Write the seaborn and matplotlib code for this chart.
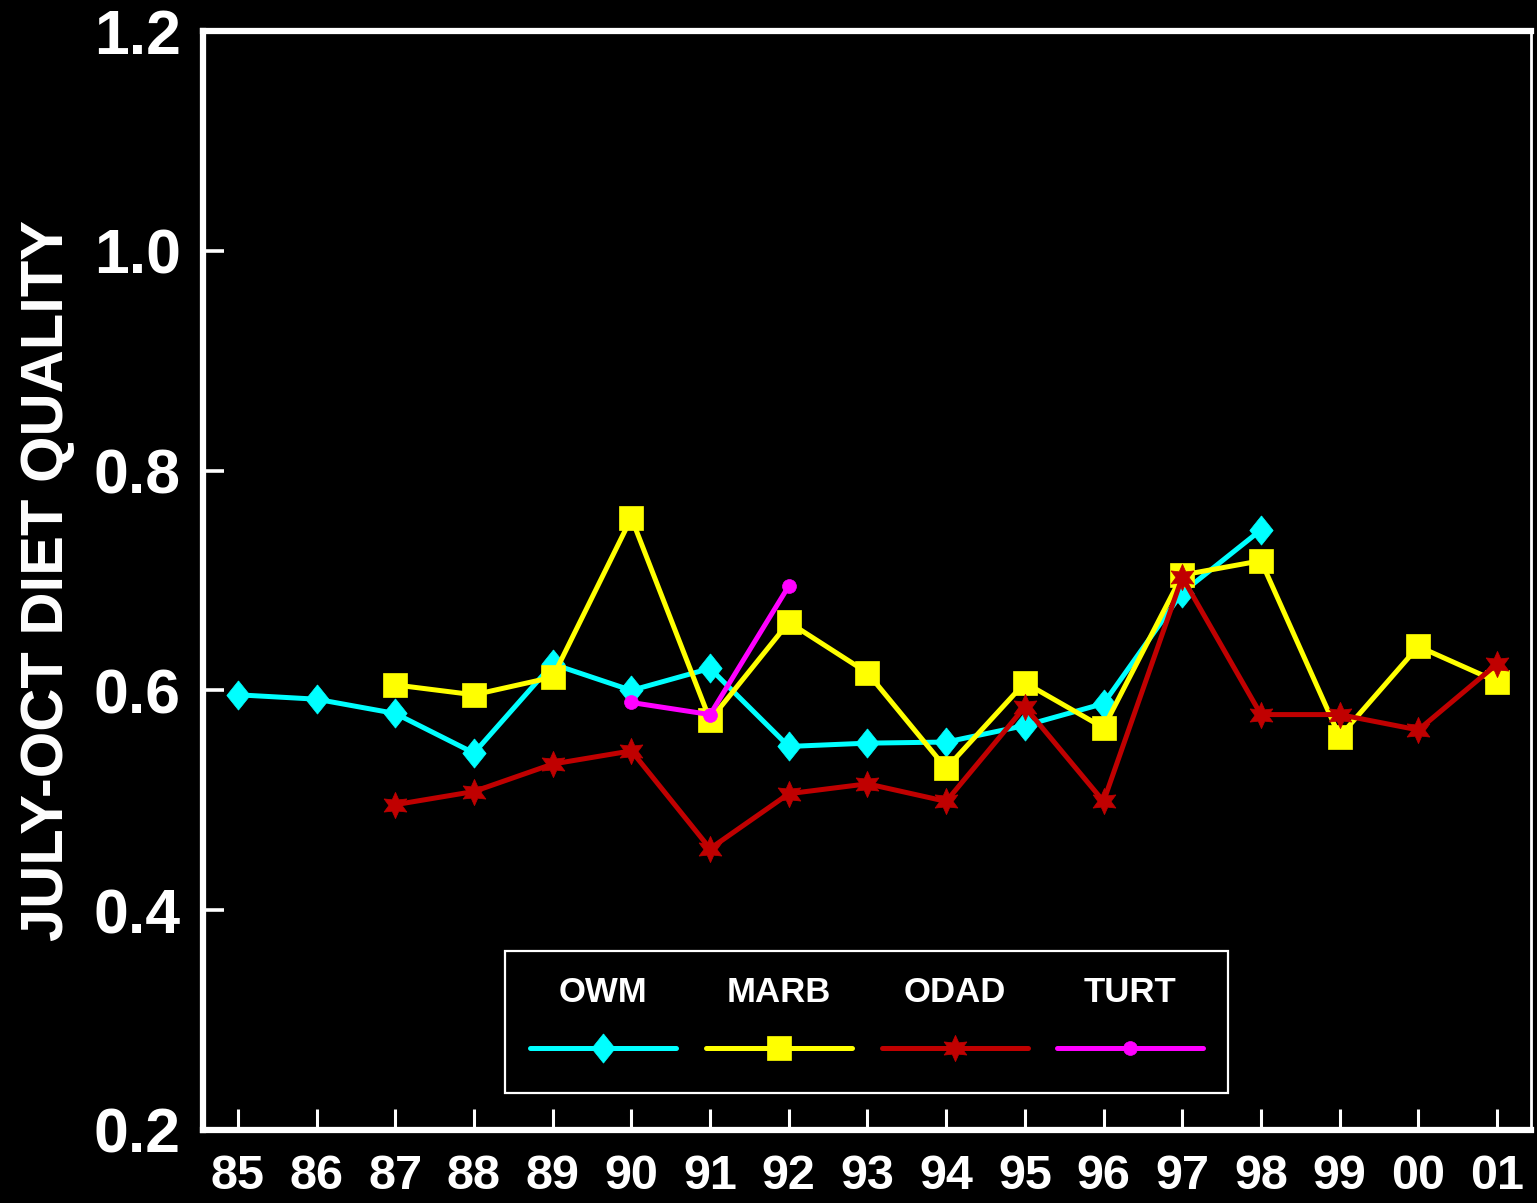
import numpy as np
import pandas as pd
import matplotlib.pyplot as plt
import seaborn as sns
from matplotlib.offsetbox import VPacker

# 数据：年份标签与各系列的取值（缺测为 None）
years = ["85", "86", "87", "88", "89", "90", "91", "92", "93",
         "94", "95", "96", "97", "98", "99", "00", "01"]
owm = [0.596, 0.592, 0.579, 0.543, 0.624, 0.600, 0.620, 0.549, 0.552,
       0.553, 0.568, 0.588, 0.689, 0.746, None, None, None]
marb = [None, None, 0.605, 0.596, 0.612, 0.757, 0.573, 0.662, 0.616,
        0.529, 0.607, 0.566, 0.705, 0.718, 0.558, 0.640, 0.608]
odad = [None, None, 0.496, 0.508, 0.533, 0.545, 0.456, 0.506, 0.515,
        0.499, 0.585, 0.499, 0.703, 0.578, 0.578, 0.564, 0.624]
turt = [None, None, None, None, None, 0.589, 0.578, 0.695, None,
        None, None, None, None, None, None, None, None]

series = {"OWM": owm, "MARB": marb, "ODAD": odad, "TURT": turt}
diamond = [(0, 1), (0.8, 0), (0, -1), (-0.8, 0), (0, 1)]
styles = {
    "OWM": dict(color="#00FFFF", marker=diamond, ms=21),
    "MARB": dict(color="#FFFF00", marker="s", ms=17),
    "ODAD": dict(color="#C00000", marker=(6, 1, 0), ms=19),
    "TURT": dict(color="#FF00FF", marker="o", ms=10),
}

sns.set_theme(style="ticks", rc={
    "figure.facecolor": "black", "axes.facecolor": "black",
    "savefig.facecolor": "black", "text.color": "white",
    "xtick.color": "white", "ytick.color": "white",
    "axes.edgecolor": "white", "axes.labelcolor": "white",
})
plt.rcParams["font.family"] = ["Liberation Sans", "DejaVu Sans"]
plt.rcParams["font.weight"] = "bold"

fig = plt.figure(figsize=(15.37, 12.03), dpi=100)
ax = fig.add_axes([0.132, 0.0607, 0.864, 0.9135])

xpos = np.arange(len(years))
for name, vals in series.items():
    df = pd.DataFrame({"x": xpos, "y": pd.to_numeric(pd.Series(vals), errors="coerce")}).dropna()
    st = styles[name]
    sns.lineplot(data=df, x="x", y="y", ax=ax, color=st["color"], marker=st["marker"],
                 markersize=st["ms"], markeredgecolor=st["color"], markeredgewidth=0.5,
                 linewidth=3.6, label=name, estimator=None, sort=False)

ax.set_xlim(-0.445, 16.43)
ax.set_ylim(0.2, 1.2)
ax.set_xticks(xpos)
ax.set_xticklabels(years)
ax.set_yticks([0.2, 0.4, 0.6, 0.8, 1.0, 1.2])
ax.set_yticklabels(["0.2", "0.4", "0.6", "0.8", "1.0", "1.2"])
ax.tick_params(axis="x", direction="in", length=15, width=2.2, pad=17, labelsize=35)
ax.tick_params(axis="y", direction="in", length=15, width=2.6, pad=16, labelsize=45)
for lab in ax.get_xticklabels() + ax.get_yticklabels():
    lab.set_fontweight("bold")

for side in ["left", "bottom", "top"]:
    ax.spines[side].set_linewidth(4.5)
ax.spines["right"].set_linewidth(2.0)

ax.set_xlabel("")
ax.set_ylabel("JULY-OCT DIET QUALITY", fontsize=43, fontweight="bold")
ax.yaxis.set_label_coords(-0.0965, 0.5)

# 图例：标签在上，线条在下
handles, labels = ax.get_legend_handles_labels()
leg = ax.legend(handles, labels, ncol=4, loc="center", bbox_to_anchor=(0.5, 0.098),
                markerfirst=False, handlelength=4.2, handleheight=1.2,
                columnspacing=0.86, borderpad=0.72, frameon=True, fancybox=False,
                facecolor="black", edgecolor="white", framealpha=1, labelcolor="white",
                prop={"weight": "bold", "size": 25})
leg.get_frame().set_linewidth(1.6)
for col in leg._legend_handle_box.get_children():
    col.align = "center"
    for item in col.get_children():
        item.__class__ = VPacker
        item.align = "center"
        item.sep = 17

fig.savefig("out.png", dpi=100, facecolor="black")
plt.close(fig)
